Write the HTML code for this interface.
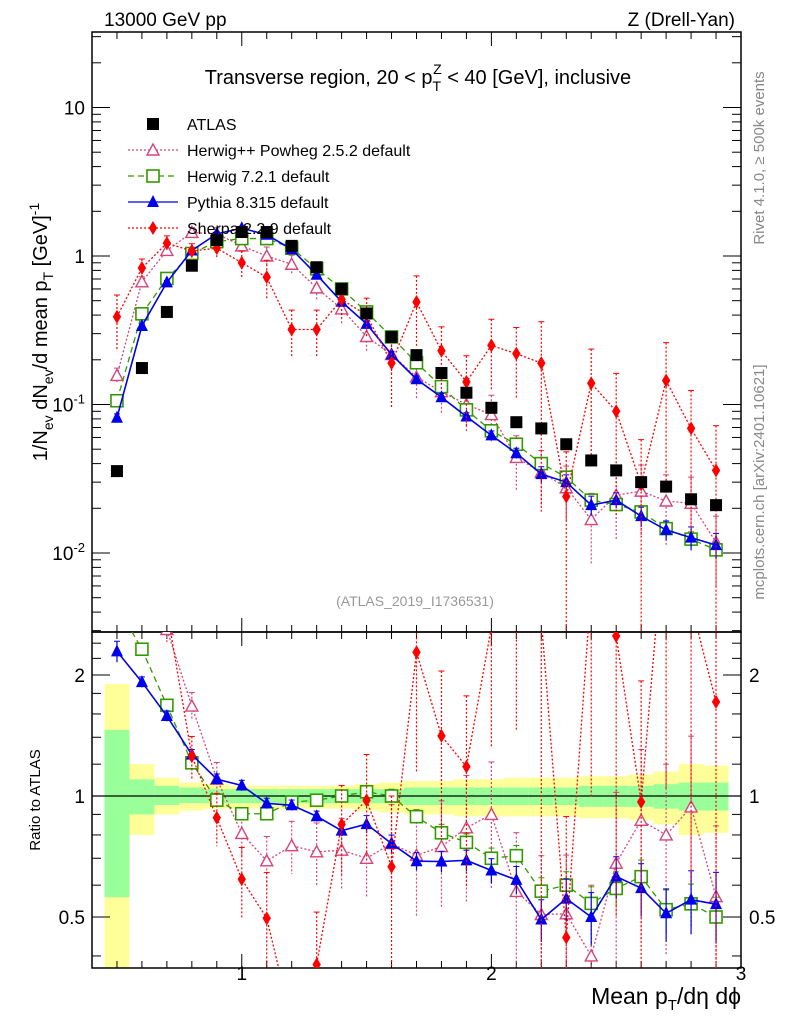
<!DOCTYPE html>
<html><head><meta charset="utf-8">
<style>
html,body{margin:0;background:#fff;width:786px;height:1024px;overflow:hidden;}
svg{display:block;font-family:"Liberation Sans",sans-serif;}
</style></head>
<body>
<svg id="c" width="786" height="1024" viewBox="0 0 786 1024"></svg>
<script>
const xs=[0.5,0.6,0.7,0.8,0.9,1.0,1.1,1.2,1.3,1.4,1.5,1.6,1.7,1.8,1.9,2.0,2.1,2.2,2.3,2.4,2.5,2.6,2.7,2.8,2.9];
const atlas=[0.0356,0.176,0.42,0.86,1.28,1.45,1.45,1.17,0.84,0.60,0.41,0.285,0.215,0.163,0.12,0.095,0.076,0.069,0.054,0.042,0.036,0.030,0.028,0.023,0.021];
const herwigpp=[0.157,0.67,1.09,1.44,1.41,1.17,1.0,0.88,0.61,0.44,0.287,0.217,0.153,0.122,0.100,0.0855,0.044,0.035,0.0275,0.0168,0.0245,0.0261,0.0224,0.0216,0.0118];
const herwig7=[0.106,0.408,0.706,1.04,1.25,1.31,1.31,1.13,0.82,0.60,0.42,0.285,0.191,0.132,0.092,0.0665,0.054,0.040,0.0324,0.0227,0.0212,0.0189,0.0146,0.0124,0.0105];
const pythia=[0.0815,0.338,0.664,1.09,1.41,1.54,1.39,1.11,0.748,0.492,0.349,0.217,0.148,0.112,0.083,0.062,0.047,0.034,0.030,0.021,0.0227,0.0177,0.0143,0.0127,0.0113];
const sherpa=[0.39,0.83,1.22,1.08,1.13,0.90,0.72,0.32,0.32,0.51,0.40,0.19,0.49,0.23,0.142,0.25,0.22,0.19,0.024,0.139,0.090,0.029,0.145,0.069,0.036];
const herwigppErr=[0.12,0.08,0.08,0.08,0.1,0.12,0.15,0.15,0.18,0.2,0.2,0.25,0.3,0.3,0.35,0.35,0.4,0.4,0.4,0.5,0.5,0.5,0.5,0.5,0.5];
const herwig7Err=[0.03,0.03,0.03,0.03,0.03,0.03,0.03,0.03,0.03,0.03,0.03,0.04,0.04,0.05,0.05,0.06,0.06,0.08,0.08,0.1,0.1,0.1,0.12,0.12,0.12];
const pythiaErr=[0.06,0.03,0.03,0.03,0.03,0.03,0.03,0.03,0.03,0.03,0.05,0.05,0.05,0.06,0.06,0.07,0.08,0.12,0.12,0.15,0.12,0.15,0.15,0.18,0.2];
const sherpaErr=[0.4,0.15,0.12,0.12,0.15,0.2,0.3,0.35,0.35,0.25,0.3,0.5,0.5,0.45,0.5,0.5,0.5,0.9,1.0,0.7,0.8,1.0,0.8,0.8,1.0];
const greenUp=[0.46,0.10,0.06,0.05,0.04,0.04,0.04,0.04,0.04,0.04,0.04,0.04,0.05,0.05,0.05,0.05,0.05,0.05,0.05,0.06,0.06,0.06,0.07,0.08,0.08];
const greenDn=[0.44,0.10,0.05,0.04,0.04,0.04,0.04,0.04,0.04,0.04,0.04,0.04,0.05,0.05,0.05,0.05,0.05,0.05,0.05,0.06,0.06,0.06,0.07,0.08,0.08];
const yellowUp=[0.9,0.2,0.11,0.08,0.07,0.06,0.06,0.06,0.06,0.06,0.07,0.08,0.09,0.09,0.10,0.10,0.11,0.11,0.11,0.12,0.12,0.13,0.15,0.20,0.19];
const yellowDn=[0.7,0.2,0.10,0.08,0.07,0.07,0.07,0.07,0.07,0.07,0.08,0.09,0.10,0.10,0.11,0.11,0.11,0.11,0.11,0.12,0.12,0.13,0.15,0.20,0.19];
const xTicks=[1,2,3];
const yTickLabels=[["10",1],["1",0],["10","-1"],["10","-2"]];
const rTicks=[2,1,0.5];

const NS="http://www.w3.org/2000/svg";
const svg=document.getElementById('c');
const L=92,R=741,T=32,MB=632,B=968;
const X=v=>L+(v-0.4)/(2.6)*(R-L);
const Y=v=>256-Math.log10(v)*148.5;
const RY=v=>796-Math.log2(v)*121;
function el(tag,at,parent){const e=document.createElementNS(NS,tag);for(const k in at)e.setAttribute(k,at[k]);(parent||svg).appendChild(e);return e;}
function txt(s,at,parent){const e=el('text',at,parent);e.textContent=s;return e;}

const defs=el('defs',{});
const cp1=el('clipPath',{id:'cm'},defs);el('rect',{x:L,y:T,width:R-L,height:MB-T},cp1);
const cp2=el('clipPath',{id:'cr'},defs);el('rect',{x:L,y:MB,width:R-L,height:B-MB},cp2);

const band=el('g',{'clip-path':'url(#cr)'});


xs.forEach((x,i)=>{
  const x0=X(x-0.05),x1=X(x+0.05);
  let a=RY(1+yellowUp[i]),b=RY(Math.max(0.01,1-yellowDn[i]));
  const ry=el('rect',{x:x0,y:a,width:x1-x0,height:b-a,fill:'#ffff99'},band);
  
  
  a=RY(1+greenUp[i]);b=RY(1-greenDn[i]);
  const rg=el('rect',{x:x0,y:a,width:x1-x0,height:b-a,fill:'#99ff99'},band);
  
  
});
el('line',{x1:L,x2:R,y1:RY(1),y2:RY(1),stroke:'#000','stroke-width':1.3});

el('rect',{x:L,y:T,width:R-L,height:MB-T,fill:'none',stroke:'#000','stroke-width':1.5});
el('rect',{x:L,y:MB,width:R-L,height:B-MB,fill:'none',stroke:'#000','stroke-width':1.5});

for(let k=4;k<=30;k++){
  const v=k/10,x=X(v),major=(k%10===0),len=major?14:7;
  [[T,1],[MB,-1],[MB,1],[B,-1]].forEach(([y,d])=>el('line',{x1:x,x2:x,y1:y,y2:y+d*len,stroke:'#000','stroke-width':1}));
}
xTicks.forEach(v=>{const t=txt(String(v),{x:X(v),y:980,'font-size':19,'text-anchor':'middle'});

});

for(let d=-3;d<=1;d++){for(let m=1;m<=9;m++){const v=m*Math.pow(10,d);const y=Y(v);if(y<T||y>MB)continue;const len=m===1?18:9;
  el('line',{x1:L,x2:L+len,y1:y,y2:y,stroke:'#000'});el('line',{x1:R,x2:R-len,y1:y,y2:y,stroke:'#000'});}}
yTickLabels.forEach(([b,e])=>{const y=Y(Math.pow(10,+e));
  const t=el('text',{x:85,y:y+7,'font-size':19,'text-anchor':'end'});
  
  
  if(b==="10"&&typeof e==="string"){t.textContent="10";const s=el('tspan',{dy:-8,'font-size':13},t);s.textContent=e;}
  else t.textContent=b;});

[0.4,0.5,0.6,0.7,0.8,0.9,1,1.2,1.4,1.6,1.8,2,2.2,2.4].forEach(v=>{const y=RY(v);const big=(v===0.5||v===1||v===2);const len=big?18:9;
  el('line',{x1:L,x2:L+len,y1:y,y2:y,stroke:'#000'});el('line',{x1:R,x2:R-len,y1:y,y2:y,stroke:'#000'});});
rTicks.forEach(v=>{const y=RY(v)+7;
  const a=txt(String(v),{x:85,y:y,'font-size':19,'text-anchor':'end'});
  
  
  const b=txt(String(v),{x:749,y:y,'font-size':19});
  
  });

function marker(g,type,x,y,color,s){
  if(type==='sq')return el('rect',{x:x-s,y:y-s,width:2*s,height:2*s,fill:color},g);
  if(type==='osq')return el('rect',{x:x-s,y:y-s,width:2*s,height:2*s,fill:'#fff',stroke:color,'stroke-width':1.6},g);
  if(type==='tri')return el('polygon',{points:`${x},${y-s-1} ${x-s},${y+s-1} ${x+s},${y+s-1}`,fill:color},g);
  if(type==='otri')return el('polygon',{points:`${x},${y-s} ${x-s},${y+s-1} ${x+s},${y+s-1}`,fill:'#fff',stroke:color,'stroke-width':1.4},g);
  if(type==='dia')return el('polygon',{points:`${x},${y-s-1} ${x-s*0.7},${y} ${x},${y+s+1} ${x+s*0.7},${y}`,fill:color},g);
}
const series=[
 {name:'herwigpp',vals:herwigpp,err:herwigppErr,color:'#d6447a',type:'otri',dash:'2,2',s:6},
 {name:'herwig7',vals:herwig7,err:herwig7Err,color:'#339900',type:'osq',dash:'6,4',s:6},
 {name:'pythia',vals:pythia,err:pythiaErr,color:'#0000ee',type:'tri',dash:'',s:6},
 {name:'sherpa',vals:sherpa,err:sherpaErr,color:'#ff0000',type:'dia',dash:'2,2',s:6},
];
function drawSeries(sr,panel){
  const clip=panel==='main'?'url(#cm)':'url(#cr)';
  const g=el('g',{'clip-path':clip});
  
  
  const ys=sr.vals.map((v,i)=>panel==='main'?Y(v):RY(v/atlas[i]));
  const pts=xs.map((x,i)=>X(x)+','+ys[i]).join(' ');
  const ln=el('polyline',{points:pts,fill:'none',stroke:sr.color,'stroke-width':sr.type==='tri'?1.6:1.3,'stroke-dasharray':sr.dash},g);
  
  
  xs.forEach((x,i)=>{
    const v=sr.vals[i],e=sr.err[i];const ref=panel==='main'?1:atlas[i];
    const f=panel==='main'?Y:RY;
    const yu=f((v*(1+e))/ref),yd=e>=0.99?2000:f((v*(1-e))/ref);
    el('line',{x1:X(x),x2:X(x),y1:yu,y2:yd,stroke:sr.color,'stroke-width':1.2,'stroke-dasharray':sr.dash?'2,2':''},g);
    el('line',{x1:X(x)-3,x2:X(x)+3,y1:yu,y2:yu,stroke:sr.color,'stroke-width':1},g);
    const m=marker(g,sr.type,X(x),ys[i],sr.color,sr.s);
    
    
  });
}
series.forEach(s=>drawSeries(s,'main'));
series.forEach(s=>drawSeries(s,'ratio'));
const ga=el('g',{'clip-path':'url(#cm)'});


xs.forEach((x,i)=>{const m=marker(ga,'sq',X(x),Y(atlas[i]),'#000',6);
  
  });

const leg=el('g',{});


const legItems=[['ATLAS','#000','sq',''],['Herwig++ Powheg 2.5.2 default','#d6447a','otri','2,2'],['Herwig 7.2.1 default','#339900','osq','6,4'],['Pythia 8.315 default','#0000ee','tri',''],['Sherpa 2.2.9 default','#ff0000','dia','2,2']];
legItems.forEach(([lab,c,t,d],i)=>{const y=124+i*26;
  const g=el('g',{},leg);
  
  
  if(i>0)el('line',{x1:128,x2:178,y1:y,y2:y,stroke:c,'stroke-width':1.3,'stroke-dasharray':d},g);
  marker(g,t,153,y,c,6);
  txt(lab,{x:187,y:y+6,'font-size':16},g);});

function label(s,at,name){const t=txt(s,at);return t;}
label('13000 GeV pp',{x:104,y:26,'font-size':19},'energy-label');
label('Z (Drell-Yan)',{x:735,y:26,'font-size':19,'text-anchor':'end'},'process-label');
const tt=el('text',{x:418,y:84,'font-size':20,'text-anchor':'middle'});


tt.innerHTML='Transverse region, 20 &lt; p<tspan dy="7" font-size="14">T</tspan><tspan dy="-17" dx="-8" font-size="14">Z</tspan><tspan dy="10"> &lt; 40 [GeV], inclusive</tspan>';
label('(ATLAS_2019_I1736531)',{x:415,y:606,'font-size':14,fill:'#999','text-anchor':'middle'},'analysis-id');
const yt=el('text',{transform:'translate(47,332) rotate(-90)','font-size':20,'text-anchor':'middle'});


yt.innerHTML='1/N<tspan dy="6" font-size="14">ev</tspan><tspan dy="-6"> dN</tspan><tspan dy="6" font-size="14">ev</tspan><tspan dy="-6">/d mean p</tspan><tspan dy="6" font-size="14">T</tspan><tspan dy="-6"> [GeV]</tspan><tspan dy="-8" font-size="14">-1</tspan>';
label('Ratio to ATLAS',{transform:'translate(40,800) rotate(-90)','font-size':15,'text-anchor':'middle'},'ratio-axis-title');
const xt=el('text',{x:741,y:1004,'font-size':23,'text-anchor':'end'});


xt.innerHTML='Mean p<tspan dy="6" font-size="15">T</tspan><tspan dy="-6">/dη dϕ</tspan>';
label('Rivet 4.1.0, ≥ 500k events',{transform:'translate(764,158) rotate(-90)','font-size':15,fill:'#888','text-anchor':'middle'},'rivet-label');
label('mcplots.cern.ch [arXiv:2401.10621]',{transform:'translate(764,482) rotate(-90)','font-size':15,fill:'#888','text-anchor':'middle'},'mcplots-label');
</script>
</body></html>
